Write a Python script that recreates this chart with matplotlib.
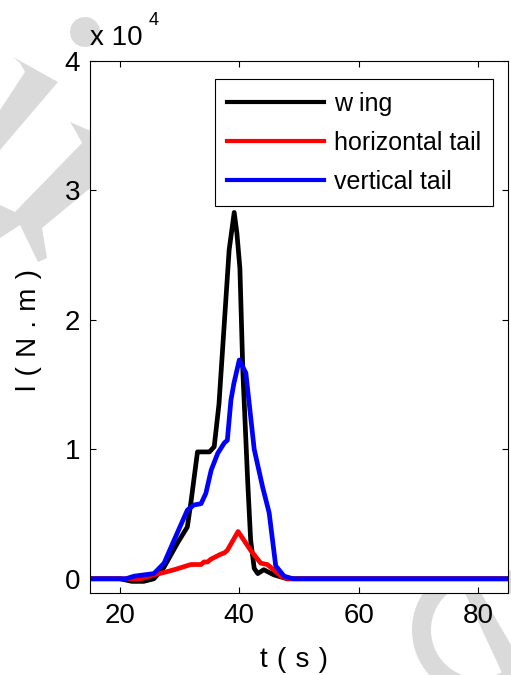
import matplotlib
matplotlib.use("Agg")
import matplotlib.pyplot as plt
from matplotlib.patches import Polygon, Wedge
from matplotlib.transforms import IdentityTransform

plt.rcParams['font.family'] = ['Liberation Sans', 'DejaVu Sans']

# moment histories, N.m
wing_t = [15, 20, 21, 22, 24, 25.7, 27.4, 29.7, 31.3, 31.9, 33.0, 35.0, 35.8, 36.6,
          38.3, 39.15, 39.6, 40.1, 40.6, 41.4, 41.9, 42.5, 43.1, 44.1, 45.8, 48, 85]
wing = [0, 0, -100, -200, -200, 0, 900, 2800, 4000, 5900, 9800, 9800, 10200, 13500,
        25400, 28300, 26700, 24000, 16000, 7600, 3000, 800, 400, 700, 300, 0, 0]

ht_t = [15, 22, 23.5, 25.7, 28, 29.1, 31.9, 33.6, 34.1, 34.7, 35.2, 36.9, 37.5, 38.0,
        39.8, 41.9, 43.6, 44.7, 47, 48, 85]
ht = [0, 0, 0, 300, 560, 700, 1100, 1100, 1300, 1300, 1500, 1900, 2000, 2200,
      3650, 2200, 1200, 1100, 200, 0, 0]

vt_t = [15, 21, 22.4, 25.7, 27.4, 29.1, 31.3, 32.4, 33.6, 34.4, 35.3, 36.4, 37.5, 38.0,
        38.6, 39.1, 40.0, 41.1, 42.5, 43.9, 45.0, 46.1, 47.5, 49, 85]
vt = [0, 0, 200, 400, 1200, 3000, 5300, 5700, 5800, 6600, 8400, 9700, 10500, 10700,
      13800, 15100, 16900, 15900, 10000, 7100, 5100, 1000, 200, 0, 0]

labels = ['w ing', 'horizontal tail', 'vertical tail']
colors = ['black', 'red', 'blue']
xticks = [20, 40, 60, 80]
yticks = [0, 10000, 20000, 30000, 40000]
ytick_labels = ['0', '1', '2', '3', '4']

W, H = 511, 675
fig = plt.figure(figsize=(W / 100, H / 100), dpi=100)

# faint background watermark strokes (pixel coords, y from top)
gray = '#dadada'
def px(pts):
    return [(x, H - y) for x, y in pts]

shapes = [
    [(13, 57), (58, 82), (0, 150), (0, 110), (25, 72), (20, 63)],
    [(70, 122), (100, 135), (100, 180), (42, 228), (47, 258), (38, 262),
     (20, 225), (0, 238), (0, 205), (15, 212), (82, 143), (75, 130)],
    [(465, 593), (481, 593), (511, 645), (511, 675), (503, 675)],
]
for s in shapes:
    fig.patches.append(Polygon(px(s), closed=True, facecolor=gray, edgecolor='none',
                               transform=IdentityTransform(), figure=fig, zorder=-1))
fig.patches.append(Wedge((479, H - 630), 67, 0, 360, width=19, facecolor=gray,
                         edgecolor='none', transform=IdentityTransform(), figure=fig, zorder=-1))
fig.patches.append(Wedge((85, H - 32), 15, 0, 360, facecolor=gray, edgecolor='none',
                         transform=IdentityTransform(), figure=fig, zorder=-1))

ax = fig.add_axes([90 / W, 1 - 593 / H, 418 / W, 532 / H])
ax.plot(wing_t, wing, color=colors[0], lw=3.4, label=labels[0])
ax.plot(ht_t, ht, color=colors[1], lw=3.4, label=labels[1])
ax.plot(vt_t, vt, color=colors[2], lw=3.4, label=labels[2])

ax.set_xlim(15, 85)
ax.set_ylim(-1100, 40000)
ax.set_xticks(xticks)
ax.set_yticks(yticks)
ax.set_yticklabels(ytick_labels)
ax.tick_params(direction='in', length=4, width=0.8, top=True, right=True,
               labelsize=20, pad=7)
for sp in ax.spines.values():
    sp.set_linewidth(0.8)

leg = ax.legend(loc='upper right', bbox_to_anchor=(0.965, 0.966), borderaxespad=0,
                fontsize=18, handlelength=3.85, handletextpad=0.4, labelspacing=0.6,
                borderpad=0.5, fancybox=False, framealpha=1, edgecolor='black')
leg.get_frame().set_linewidth(0.8)
for ln in leg.get_lines():
    ln.set_linewidth(3.0)

sp3 = '\u2004'
fig.text(90 / W, 1 - 45 / H, 'x 10', fontsize=20, ha='left', va='baseline')
fig.text(149 / W, 1 - 25 / H, '4', fontsize=13, ha='left', va='baseline')
fig.text(294 / W, 1 - 660 / H, sp3.join(['t', '(', 's', ')']), fontsize=20,
         ha='center', va='center')
fig.text(29 / W, 1 - 330 / H, sp3.join(['l', '(', 'N', '.', 'm', ')']), fontsize=20,
         ha='center', va='center', rotation=90)

fig.savefig('out.png', dpi=100)
